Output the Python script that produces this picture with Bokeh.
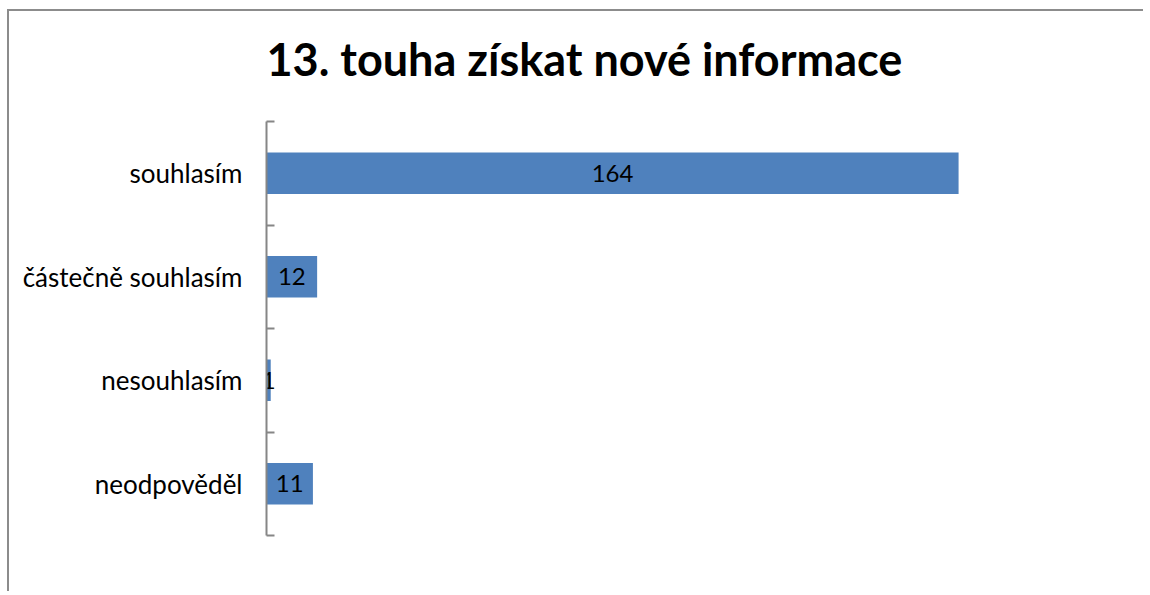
from bokeh.plotting import figure
from bokeh.models import ColumnDataSource, FixedTicker, Range1d, Title
from bokeh.core.properties import value
from bokeh.embed import file_html
from bokeh.resources import INLINE

categories = ["neodpověděl", "nesouhlasím", "částečně souhlasím", "souhlasím"]
counts = [11, 1, 12, 164]
title_text = "13. touha získat nové informace"

pos = list(range(1, len(categories) + 1))
src = ColumnDataSource(dict(
    y=pos,
    v=counts,
    mid=[c / 2 for c in counts],
    lab=[str(c) for c in counts],
))

p = figure(width=1136, height=582, output_backend="svg", toolbar_location=None,
           x_range=Range1d(0, 200), y_range=Range1d(0.5, 4.5),
           min_border_left=257, min_border_right=35, min_border_bottom=58,
           min_border_top=110, title=title_text)
p.styles = {"border-top": "2px solid #8c8c8c", "border-left": "2px solid #8c8c8c",
            "margin-left": "7px", "margin-top": "9px"}

p.title.text_font = "Lato"
p.title.text_font_size = "45px"
p.title.text_font_style = "bold"
p.title.text_color = "black"
p.title.align = "left"
p.title.offset = 0
p.title.standoff = 0

# empty spacer panel between the title and the plot area
p.add_layout(Title(text=" ", text_font_size="20px", standoff=12), "above")

p.hbar(y="y", right="v", left=0, height=0.4, source=src,
       fill_color="#4F81BD", line_color=None)
p.text(x="mid", y="y", text="lab", source=src, text_align="center",
       text_baseline="middle", text_font=value("Lato"),
       text_font_size="24px", text_color="black")

p.xaxis.visible = False
p.xgrid.visible = False
p.ygrid.visible = False
p.outline_line_color = None

ax = p.yaxis[0]
ax.ticker = FixedTicker(ticks=pos, minor_ticks=[i + 0.5 for i in range(0, len(categories) + 1)])
ax.major_label_overrides = {i: c for i, c in zip(pos, categories)}
ax.major_tick_in = 0
ax.major_tick_out = 0
ax.minor_tick_in = 8
ax.minor_tick_out = 0
ax.minor_tick_line_color = "#868686"
ax.minor_tick_line_width = 2
ax.axis_line_color = "#868686"
ax.axis_line_width = 2
ax.major_label_standoff = 24
ax.major_label_text_font = "Lato"
ax.major_label_text_font_size = "26px"
ax.major_label_text_color = "black"

open("out.html", "w").write(file_html(p, INLINE))
